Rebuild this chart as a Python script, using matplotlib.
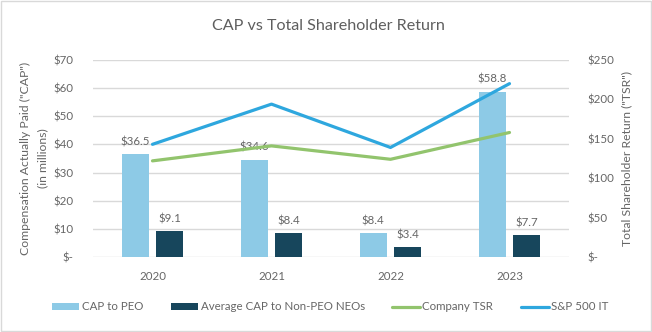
import matplotlib
matplotlib.use("Agg")
import matplotlib.pyplot as plt
import numpy as np
from matplotlib.patches import Rectangle

plt.rcParams['font.family'] = ['Lato', 'DejaVu Sans']

years = ["2020", "2021", "2022", "2023"]
cap_peo = [36.5, 34.6, 8.4, 58.8]
cap_neo = [9.1, 8.4, 3.4, 7.7]
company_tsr = [122, 141, 124, 158]
sp500_it = [143, 194, 139, 220]

left_ticks = [0, 10, 20, 30, 40, 50, 60, 70]
right_ticks = [0, 50, 100, 150, 200, 250]

TEXT = "#666666"
TITLE = "#5E5E5E"
GRID = "#D9D9D9"
C_PEO = "#8DCAE6"
C_NEO = "#17465C"
C_TSR = "#92C46D"
C_SP = "#2EA7DE"

fig = plt.figure(figsize=(6.52, 3.32), dpi=100)
fig.patches.append(Rectangle((0.002, 0.003), 0.996, 0.994, transform=fig.transFigure,
                             fill=False, edgecolor=GRID, linewidth=1.0))

ax = fig.add_axes([93 / 652, 1 - 257 / 332, 476 / 652, 197 / 332])
x = np.arange(len(years))
w = 0.227
off = 0.145
b1 = ax.bar(x - off, cap_peo, w, color=C_PEO, zorder=2, label="CAP to PEO")
b2 = ax.bar(x + off, cap_neo, w, color=C_NEO, zorder=2, label="Average CAP to Non-PEO NEOs")
for bars, vals in ((b1, cap_peo), (b2, cap_neo)):
    for r, v in zip(bars, vals):
        ax.annotate(f"${v:.1f}", (r.get_x() + r.get_width() / 2, v), xytext=(0, 5),
                    textcoords="offset points", ha="center", va="bottom",
                    fontsize=8.3, color=TEXT)

ax.set_xlim(-0.5, len(years) - 0.5)
ax.set_ylim(0, 70)
ax.set_yticks(left_ticks)
ax.set_yticklabels([f"${t}" if t else "$-" for t in left_ticks])
ax.set_xticks(x)
ax.set_xticklabels(years)
ax.yaxis.grid(True, color=GRID, linewidth=1.0, zorder=0)
ax.set_axisbelow(True)
for s in ax.spines.values():
    s.set_visible(False)
ax.tick_params(axis="both", length=0, colors=TEXT, labelsize=8.3)
ax.tick_params(axis="y", pad=14)
ax.tick_params(axis="x", pad=10)
ax.set_ylabel('Compensation Actually Paid ("CAP")\n(in millions)', color=TEXT,
              fontsize=8.8, labelpad=4, linespacing=1.65)

ax2 = ax.twinx()
l1, = ax2.plot(x, company_tsr, color=C_TSR, linewidth=2.3, label="Company TSR",
               solid_capstyle="round")
l2, = ax2.plot(x, sp500_it, color=C_SP, linewidth=2.3, label="S&P 500 IT",
               solid_capstyle="round")
ax2.set_ylim(0, 250)
ax2.set_yticks(right_ticks)
ax2.set_yticklabels([f"${t}" if t else "$-" for t in right_ticks])
for s in ax2.spines.values():
    s.set_visible(False)
ax2.tick_params(axis="y", length=0, colors=TEXT, labelsize=8.3, pad=13)
ax2.set_ylabel('Total Shareholder Return ("TSR")', color=TEXT, fontsize=8.8, labelpad=5)

fig.suptitle("CAP vs Total Shareholder Return", x=0.503, y=1 - 26 / 332, va="center",
             fontsize=11.6, color=TITLE)

leg = fig.legend([b1, b2, l1, l2],
                 ["CAP to PEO", "Average CAP to Non-PEO NEOs", "Company TSR", "S&P 500 IT"],
                 loc="center", bbox_to_anchor=(0.506, 1 - 307 / 332), ncol=4,
                 frameon=False, fontsize=8.3, handlelength=2.4, handleheight=0.5,
                 handletextpad=0.2, columnspacing=2.4, labelcolor=TEXT)

fig.savefig("out.png", dpi=100)
